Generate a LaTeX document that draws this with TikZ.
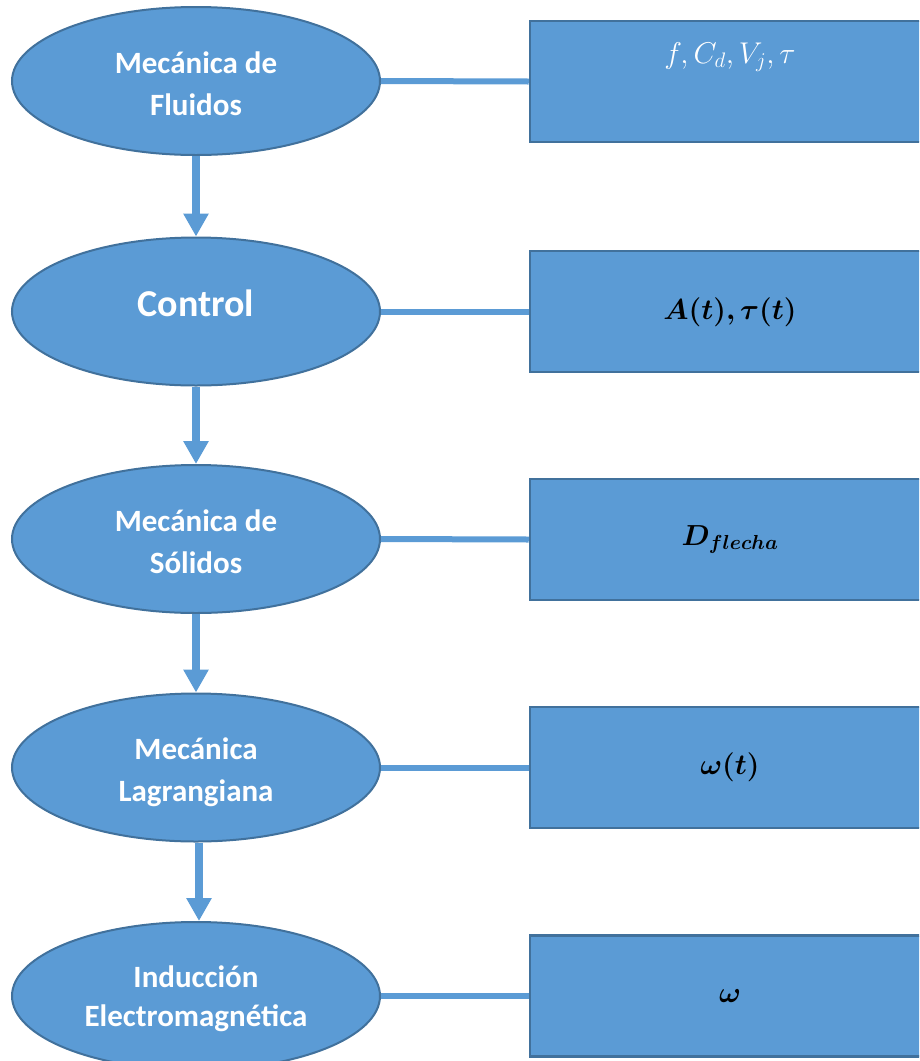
\documentclass[tikz,border=0pt]{standalone}
\usepackage{fix-cm}
\usepackage{amsmath,bm}
\usepackage{fontspec}
\setmainfont{Carlito}
\usetikzlibrary{arrows.meta,shapes.geometric,positioning}
\definecolor{officeblue}{RGB}{91,155,213}
\definecolor{officeedge}{RGB}{65,113,156}
\tikzset{
    topic/.style={ellipse, draw=officeedge, line width=2pt, fill=officeblue,
        minimum width=368pt, minimum height=148pt, inner sep=0pt,
        text=white, align=center, text height=68pt, text depth=0pt,
        font=\bfseries\fontsize{31}{42}\selectfont},
    databox/.style={rectangle, draw=officeedge, line width=2.5pt, fill=officeblue,
        minimum width=400pt, minimum height=121pt, inner sep=0pt,
        font=\fontsize{29}{32}\selectfont},
    flow/.style={draw=officeblue, line width=8pt, -{Triangle[width=24pt,length=23pt]}},
    link/.style={draw=officeblue, line width=6pt}
}

\begin{document}
\begin{tikzpicture}[x=1pt, y=-1pt]
    \clip (0,0) rectangle (919,1061);
    \def \ex {196}
    \def \bx {730}
    % left column
    \node[topic] (e1) at (\ex, 81) {Mecánica de\\Fluidos};
    \node[topic, font=\bfseries\fontsize{38}{44}\selectfont, text height=27pt, text depth=18pt] (e2) at (\ex, 311.5) {Control};
    \node[topic] (e3) at (\ex, 539) {Mecánica de\\Sólidos};
    \node[topic] (e4) at (\ex, 767.5) {Mecánica\\Lagrangiana};
    \node[topic, font=\bfseries\fontsize{31}{39}\selectfont, text height=60pt] (e5) at (\ex, 996) {Inducción\\Electromagnética};
    % right column
    \node[databox] (d1) at (\bx, 81.5) {};
    \node[text=white, font=\fontsize{30}{32}\selectfont] (t1) at (\bx, 57) {$f, C_d, V_j, \tau$};
    \node[databox, text depth=5pt] (d2) at (\bx, 311.5) {$\bm{A(t), \tau(t)}$};
    \node[databox] (d3) at (\bx, 539.5) {$\bm{D_{flecha}}$};
    \node[databox] (d4) at (\bx, 767.5) {$\bm{\omega(t)}$};
    \node[databox] (d5) at (\bx, 996) {$\bm{\omega}$};
    % connectors
    \foreach \i in {1,...,5}{
        \draw[link] (e\i.east) -- (d\i.west);
    }
    \draw[flow] (e1.south) -- (e2.north);
    \draw[flow] (e2.south) -- (e3.north);
    \draw[flow] (e3.south) -- (e4.north);
    \draw[flow] ([xshift=3pt]e4.south) -- ([xshift=3pt]e5.north);
\end{tikzpicture}
\end{document}
